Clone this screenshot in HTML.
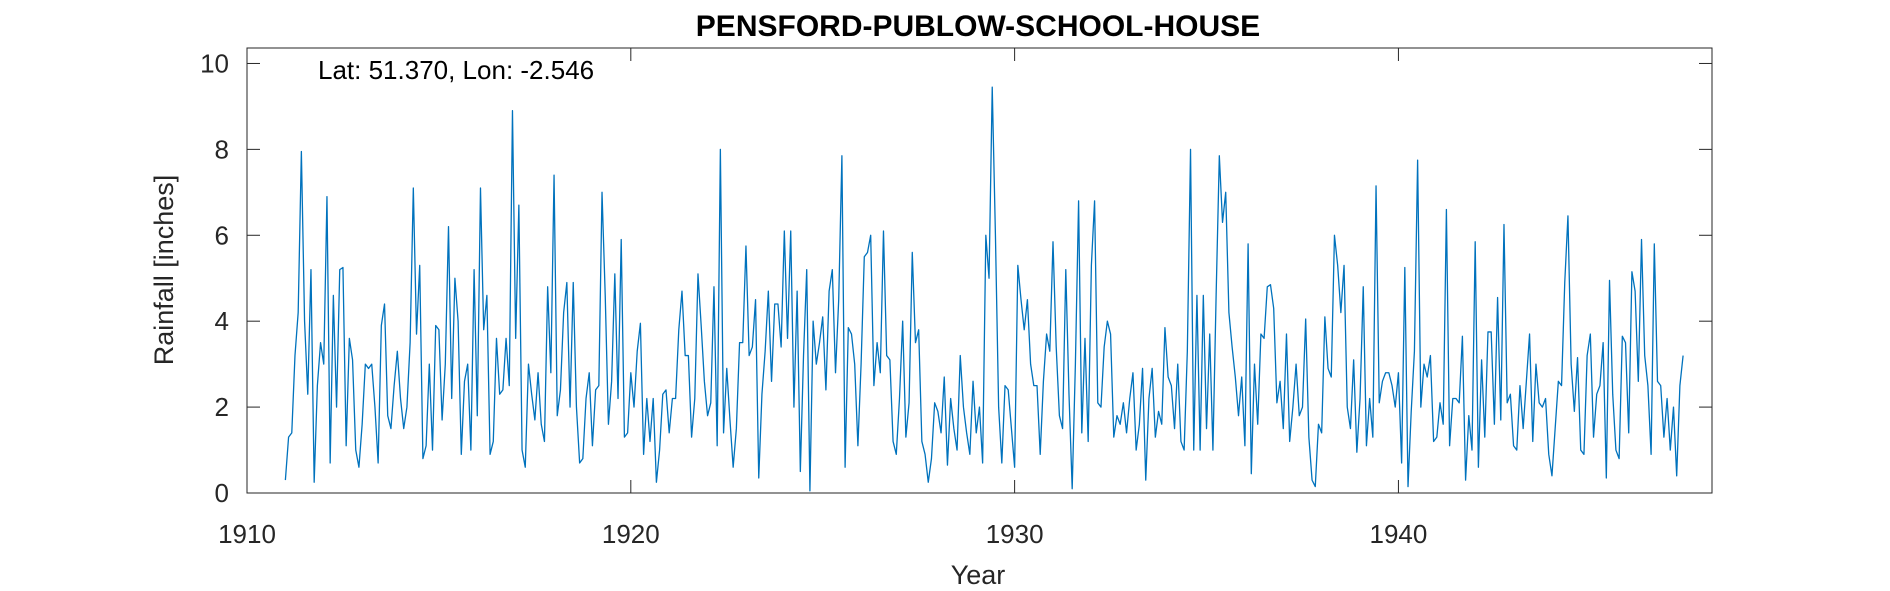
<!DOCTYPE html>
<html><head><meta charset="utf-8"><style>
html,body{margin:0;padding:0;background:#fff;}
svg{display:block;font-family:"Liberation Sans",Arial,sans-serif;}
</style></head><body>
<svg id="chart" width="1890" height="591" viewBox="0 0 1890 591" xmlns="http://www.w3.org/2000/svg">
<rect width="1890" height="591" fill="#fff"/>
<text x="978" y="36" text-anchor="middle" font-size="30" font-weight="bold" fill="#000">PENSFORD-PUBLOW-SCHOOL-HOUSE</text>
<g id="axes"></g>
<path id="series" fill="none" stroke="#0072BD" stroke-width="1.3" stroke-linejoin="round"/>
<text x="318" y="79" font-size="26" fill="#000">Lat: 51.370, Lon: -2.546</text>
<text x="978" y="584" text-anchor="middle" font-size="27" fill="#262626">Year</text>
<text transform="translate(173,270) rotate(-90)" text-anchor="middle" font-size="27" fill="#262626">Rainfall [inches]</text>
</svg>
<script>
const startYear = 1911;
const xTicks = [1910, 1920, 1930, 1940];
const yTicks = [0, 2, 4, 6, 8, 10];
const rainfall = [
0.3,1.3,1.4,3.2,4.2,7.95,4.0,2.3,5.2,0.25,2.5,3.5,
3.0,6.9,0.7,4.6,2.0,5.2,5.25,1.1,3.6,3.1,1.0,0.6,
1.6,3.0,2.9,3.0,2.0,0.7,3.9,4.4,1.8,1.5,2.5,3.3,
2.2,1.5,2.0,3.5,7.1,3.7,5.3,0.8,1.1,3.0,1.0,3.9,
3.8,1.7,3.0,6.2,2.2,5.0,4.0,0.9,2.6,3.0,1.0,5.2,
1.8,7.1,3.8,4.6,0.9,1.2,3.6,2.3,2.4,3.6,2.5,8.9,
3.6,6.7,1.0,0.6,3.0,2.3,1.7,2.8,1.6,1.2,4.8,2.8,
7.4,1.8,2.4,4.2,4.9,2.0,4.9,2.0,0.7,0.8,2.2,2.8,
1.1,2.4,2.5,7.0,4.6,1.6,2.6,5.1,2.2,5.9,1.3,1.4,
2.8,2.0,3.3,3.95,0.9,2.2,1.2,2.2,0.25,1.0,2.3,2.4,
1.4,2.2,2.2,3.8,4.7,3.2,3.2,1.3,2.2,5.1,3.9,2.6,
1.8,2.1,4.8,1.1,8.0,1.4,2.9,1.7,0.6,1.5,3.5,3.5,
5.75,3.2,3.4,4.5,0.35,2.3,3.3,4.7,2.6,4.4,4.4,3.4,
6.1,3.6,6.1,2.0,4.7,0.5,3.2,5.2,0.05,4.0,3.0,3.5,
4.1,2.4,4.7,5.2,2.8,4.5,7.85,0.6,3.85,3.7,3.0,1.1,
3.0,5.5,5.6,6.0,2.5,3.5,2.8,6.1,3.2,3.1,1.2,0.9,
2.2,4.0,1.3,2.1,5.6,3.5,3.8,1.2,0.9,0.25,0.8,2.1,
1.9,1.4,2.7,0.65,2.2,1.5,1.0,3.2,2.0,1.4,0.9,2.6,
1.4,2.0,0.7,6.0,5.0,9.45,6.0,2.0,0.7,2.5,2.4,1.5,
0.6,5.3,4.5,3.8,4.5,3.0,2.5,2.5,0.9,2.6,3.7,3.3,
5.85,3.4,1.8,1.5,5.2,2.3,0.1,3.0,6.8,1.4,3.6,1.2,
5.3,6.8,2.1,2.0,3.4,4.0,3.7,1.3,1.8,1.6,2.1,1.4,
2.2,2.8,1.0,1.6,2.9,0.3,2.2,2.9,1.3,1.9,1.6,3.85,
2.7,2.5,1.5,3.0,1.2,1.0,3.3,8.0,1.0,4.6,1.0,4.6,
1.5,3.7,1.0,4.6,7.85,6.3,7.0,4.2,3.4,2.7,1.8,2.7,
1.1,5.8,0.45,3.0,1.6,3.7,3.6,4.8,4.85,4.3,2.1,2.6,
1.5,3.7,1.2,2.0,3.0,1.8,2.0,4.05,1.3,0.3,0.15,1.6,
1.4,4.1,2.9,2.7,6.0,5.3,4.2,5.3,2.0,1.5,3.1,0.95,
2.2,4.8,1.1,2.2,1.3,7.15,2.1,2.6,2.8,2.8,2.5,2.0,
2.8,0.7,5.25,0.15,1.9,3.3,7.75,2.0,3.0,2.7,3.2,1.2,
1.3,2.1,1.6,6.6,1.1,2.2,2.2,2.1,3.65,0.3,1.8,1.0,
5.85,0.6,3.1,1.3,3.75,3.75,1.6,4.55,1.7,6.25,2.1,2.3,
1.1,1.0,2.5,1.5,2.6,3.7,1.2,3.0,2.1,2.0,2.2,0.9,
0.4,1.5,2.6,2.5,4.9,6.45,3.0,1.9,3.15,1.0,0.9,3.2,
3.7,1.3,2.3,2.5,3.5,0.35,4.95,2.3,1.0,0.8,3.65,3.5,
1.4,5.15,4.7,2.6,5.9,3.2,2.5,0.9,5.8,2.6,2.5,1.3,
2.2,1.0,2.0,0.4,2.5,3.2
];
const L=247,R=1712,T=48,B=493;
const xMin=1910,xMax=1948.17,yMin=0,yMax=10.36;
const xs=v=>L+(v-xMin)/(xMax-xMin)*(R-L);
const ys=v=>B-(v-yMin)/(yMax-yMin)*(B-T);
const NS="http://www.w3.org/2000/svg";
const ax=document.getElementById('axes');
function mk(tag,attrs){const e=document.createElementNS(NS,tag);for(const k in attrs)e.setAttribute(k,attrs[k]);return e;}
const box=mk('rect',{x:L,y:T,width:R-L,height:B-T,fill:'none',stroke:'#262626','stroke-width':1});


ax.appendChild(box);
const tl=13;
xTicks.forEach(t=>{
  const x=xs(t);
  const a=mk('line',{x1:x,x2:x,y1:B,y2:B-tl,stroke:'#262626'});
  
  
  ax.appendChild(a);
  const b=mk('line',{x1:x,x2:x,y1:T,y2:T+tl,stroke:'#262626'});
  
  
  ax.appendChild(b);
  const lb=mk('text',{x:x,y:B+50,'text-anchor':'middle','font-size':26,fill:'#262626'});
  
  
  lb.textContent=t;ax.appendChild(lb);
});
yTicks.forEach(t=>{
  const y=ys(t);
  const a=mk('line',{x1:L,x2:L+tl,y1:y,y2:y,stroke:'#262626'});
  
  
  ax.appendChild(a);
  const b=mk('line',{x1:R,x2:R-tl,y1:y,y2:y,stroke:'#262626'});
  
  
  ax.appendChild(b);
  const lb=mk('text',{x:L-18,y:y+9,'text-anchor':'end','font-size':26,fill:'#262626'});
  
  
  lb.textContent=t;ax.appendChild(lb);
});
let d='';
rainfall.forEach((v,i)=>{const x=xs(startYear+i/12),y=ys(v);d+=(i?'L':'M')+x.toFixed(2)+' '+y.toFixed(2);});
document.getElementById('series').setAttribute('d',d);
</script>
</body></html>
